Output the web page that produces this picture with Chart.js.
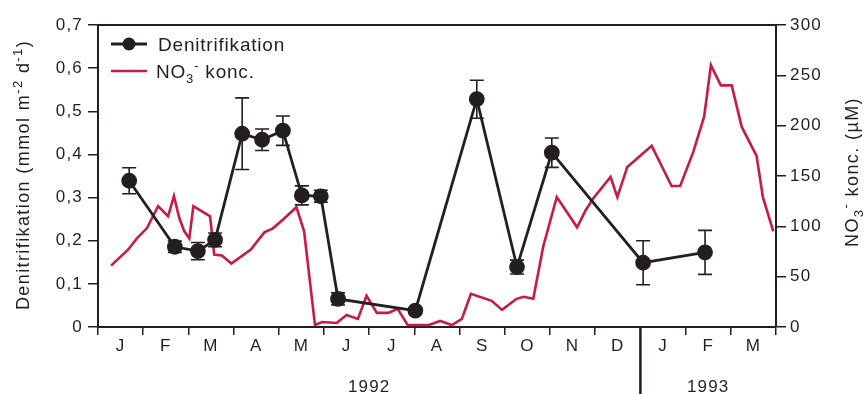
<!DOCTYPE html>
<html>
<head>
<meta charset="utf-8">
<script src="https://cdn.jsdelivr.net/npm/chart.js@4"></script>
<style>
  html, body { margin: 0; padding: 0; background: #fff; }
  #wrap { width: 865px; height: 394px; }
</style>
</head>
<body>
<div id="wrap"><canvas id="chart"></canvas></div>
<script>
const months = ["J", "F", "M", "A", "M", "J", "J", "A", "S", "O", "N", "D", "J", "F", "M"];
const leftTicks = [0, 0.1, 0.2, 0.3, 0.4, 0.5, 0.6, 0.7];
const rightTicks = [0, 50, 100, 150, 200, 250, 300];

// Denitrifikation, x in months from 1 Jan 1992
const denMonth = [0.69, 1.70, 2.21, 2.59, 3.19, 3.63, 4.09, 4.51, 4.93, 5.31, 7.02, 8.38, 9.27, 10.04, 12.06, 13.43];
const denValue = [0.339, 0.186, 0.176, 0.202, 0.448, 0.434, 0.455, 0.305, 0.303, 0.065, 0.038, 0.528, 0.139, 0.404, 0.149, 0.173];
const denError = [0.030, 0.013, 0.020, 0.016, 0.083, 0.025, 0.034, 0.022, 0.014, 0.014, 0.006, 0.044, 0.016, 0.034, 0.051, 0.051];

// NO3- konc. (µM)
const no3Month = [0.29, 0.67, 0.86, 1.08, 1.33, 1.55, 1.68, 1.80, 1.91, 2.02, 2.11, 2.48, 2.57, 2.74, 2.95,
  3.38, 3.68, 3.87, 4.10, 4.39, 4.56, 4.80, 4.96, 5.28, 5.50, 5.75, 5.94, 6.17, 6.42, 6.63,
  6.85, 7.32, 7.57, 7.83, 8.05, 8.25, 8.71, 8.94, 9.26, 9.42, 9.63, 9.85, 10.15, 10.60, 10.79,
  10.96, 11.34, 11.49, 11.71, 12.25, 12.69, 12.88, 13.17, 13.41, 13.56, 13.78, 14.02, 14.24, 14.57, 14.71, 14.94];
const no3Value = [61, 77, 88, 98, 120, 110, 130, 108, 95, 88, 120, 110, 72, 71, 63,
  77, 94, 98, 107, 119, 95, 2, 5, 4, 12, 8, 31, 14, 14, 18,
  2, 2, 6, 2, 8, 33, 26, 17, 28, 30, 28, 80, 129, 99, 116,
  128, 149, 129, 159, 180, 140, 140, 174, 209, 260, 240, 240, 199, 170, 129, 95];

const INK = "#231f20";
const RED = "#c91a47";
const FONT = '"Liberation Sans", Arial, Helvetica, sans-serif';

function drawRuns(ctx, parts, x, y, angle) {
  ctx.save();
  ctx.translate(x, y);
  ctx.rotate(angle);
  ctx.fillStyle = INK;
  ctx.textAlign = "left";
  ctx.textBaseline = "alphabetic";
  let total = 0;
  parts.forEach(p => { ctx.font = p[1] + "px " + FONT; total += ctx.measureText(p[0]).width; });
  let cx = -total / 2;
  parts.forEach(p => {
    ctx.font = p[1] + "px " + FONT;
    ctx.fillText(p[0], cx, p[2] || 0);
    cx += ctx.measureText(p[0]).width;
  });
  ctx.restore();
}

const decor = {
  id: "decor",
  beforeDraw(chart) {
    chart.ctx.letterSpacing = "1.2px";
  },
  beforeDatasetDraw(chart, args) {
    if (args.index !== 0) return;
    const ctx = chart.ctx, x = chart.scales.x, y = chart.scales.y;
    ctx.save();
    ctx.strokeStyle = INK;
    ctx.lineWidth = 1.6;
    denMonth.forEach((m, i) => {
      const px = x.getPixelForValue(m);
      const top = y.getPixelForValue(denValue[i] + denError[i]);
      const bot = y.getPixelForValue(denValue[i] - denError[i]);
      ctx.beginPath();
      ctx.moveTo(px, top); ctx.lineTo(px, bot);
      ctx.moveTo(px - 7, top); ctx.lineTo(px + 7, top);
      ctx.moveTo(px - 7, bot); ctx.lineTo(px + 7, bot);
      ctx.stroke();
    });
    ctx.restore();
  },
  afterDraw(chart) {
    const ctx = chart.ctx, a = chart.chartArea, x = chart.scales.x;
    ctx.save();
    ctx.strokeStyle = INK;
    ctx.lineWidth = 2;
    ctx.beginPath();
    ctx.moveTo(a.left - 1, a.top); ctx.lineTo(a.right + 1, a.top);
    ctx.stroke();
    // year divider
    const xd = x.getPixelForValue(12);
    ctx.lineWidth = 2.5;
    ctx.beginPath();
    ctx.moveTo(xd, a.bottom); ctx.lineTo(xd, 394);
    ctx.stroke();

    // legend
    ctx.lineWidth = 2.8;
    ctx.beginPath(); ctx.moveTo(111, 44); ctx.lineTo(147, 44); ctx.stroke();
    ctx.fillStyle = INK;
    ctx.beginPath(); ctx.arc(129, 44, 6.5, 0, Math.PI * 2); ctx.fill();
    ctx.strokeStyle = RED;
    ctx.lineWidth = 2.6;
    ctx.beginPath(); ctx.moveTo(111, 71); ctx.lineTo(147, 71); ctx.stroke();
    ctx.restore();

    ctx.save();
    ctx.letterSpacing = "0.8px";
    ctx.fillStyle = INK;
    ctx.font = "19px " + FONT;
    ctx.textBaseline = "alphabetic";
    ctx.fillText("Denitrifikation", 158, 51);
    let lx = 156;
    [["NO", 19, 0], ["3", 13, 5], ["-", 13, -8], [" konc.", 19, 0]].forEach(p => {
      ctx.font = p[1] + "px " + FONT;
      ctx.fillText(p[0], lx, 78 + p[2]);
      lx += ctx.measureText(p[0]).width;
    });
    ctx.restore();

    ctx.save();
    ctx.letterSpacing = "1.4px";
    drawRuns(ctx, [["Denitrifikation (mmol m", 18, 0], ["-2", 13, -7], [" d", 18, 0], ["-1", 13, -7], [")", 18, 0]],
      29, 175, -Math.PI / 2);
    drawRuns(ctx, [["NO", 18, 0], ["3", 13, 5], ["-", 13, -8], [" konc. (\u00b5M)", 18, 0]],
      858, 172, -Math.PI / 2);
    ctx.letterSpacing = "1.2px";
    ctx.font = "17px " + FONT;
    ctx.fillStyle = INK;
    ctx.textAlign = "center";
    ctx.fillText("1992", x.getPixelForValue(6), 392);
    ctx.fillText("1993", x.getPixelForValue(13.5), 392);
    ctx.restore();
  }
};

new Chart(document.getElementById("chart"), {
  type: "line",
  data: {
    datasets: [
      {
        label: "Denitrifikation",
        data: denMonth.map((m, i) => ({ x: m, y: denValue[i] })),
        yAxisID: "y",
        borderColor: INK,
        backgroundColor: INK,
        borderWidth: 2.8,
        pointRadius: 6.5,
        pointHoverRadius: 6.5,
        tension: 0
      },
      {
        label: "NO3- konc.",
        data: no3Month.map((m, i) => ({ x: m, y: no3Value[i] })),
        yAxisID: "y1",
        borderColor: RED,
        borderWidth: 2.6,
        pointRadius: 0,
        tension: 0
      }
    ]
  },
  options: {
    responsive: true,
    maintainAspectRatio: false,
    animation: false,
    events: [],
    layout: { padding: { top: 25, left: 0, right: 0, bottom: 0 } },
    plugins: { legend: { display: false }, tooltip: { enabled: false } },
    scales: {
      x: {
        type: "linear",
        min: 0,
        max: 15,
        afterFit: s => { s.height = 67; },
        ticks: {
          stepSize: 0.5,
          autoSkip: false,
          maxRotation: 0,
          padding: 1,
          color: INK,
          font: { family: FONT, size: 17 },
          callback: v => (v % 1 === 0.5 ? months[Math.floor(v)] : "")
        },
        grid: {
          drawOnChartArea: false,
          tickLength: 8,
          lineWidth: 1.5,
          color: c => (c.tick && c.tick.value % 1 === 0 && c.tick.value !== 12 ? INK : "rgba(0,0,0,0)")
        },
        border: { color: INK, width: 2 }
      },
      y: {
        position: "left",
        min: 0,
        max: 0.7,
        afterFit: s => { s.width = 98; },
        afterBuildTicks: s => { s.ticks = leftTicks.map(v => ({ value: v })); },
        ticks: {
          padding: 5,
          color: INK,
          font: { family: FONT, size: 17 },
          callback: v => (v === 0 ? "0" : v.toFixed(1).replace(".", ","))
        },
        grid: { drawOnChartArea: false, tickLength: 10, lineWidth: 1.5, color: INK },
        border: { color: INK, width: 2 }
      },
      y1: {
        position: "right",
        min: 0,
        max: 300,
        afterFit: s => { s.width = 89; },
        afterBuildTicks: s => { s.ticks = rightTicks.map(v => ({ value: v })); },
        ticks: {
          padding: 4,
          color: INK,
          font: { family: FONT, size: 17 }
        },
        grid: { drawOnChartArea: false, tickLength: 10, lineWidth: 1.5, color: INK },
        border: { color: INK, width: 2 }
      }
    }
  },
  plugins: [decor]
});
</script>
</body>
</html>
